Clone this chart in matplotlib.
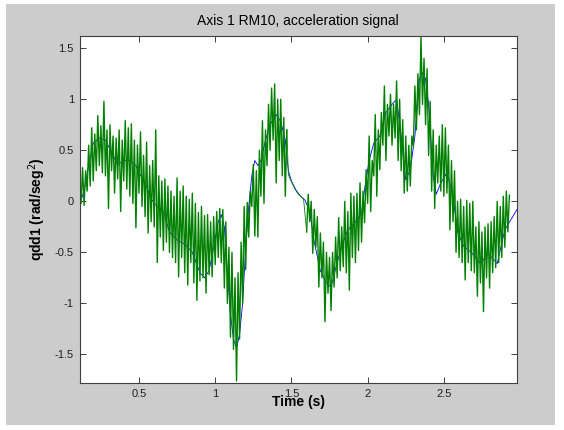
import matplotlib.pyplot as plt
from matplotlib.patches import Rectangle

plt.rcParams['font.family'] = ['Liberation Sans', 'DejaVu Sans']

# senal de referencia (filtrada)
t_ref = [0.11, 0.13, 0.15, 0.17, 0.20, 0.24, 0.28, 0.32, 0.36, 0.40, 0.44, 0.48,
         0.50, 0.54, 0.58, 0.62, 0.66, 0.70, 0.75, 0.80, 0.85, 0.90, 0.93, 0.96,
         0.99, 1.02, 1.04, 1.06, 1.08, 1.10, 1.12, 1.14, 1.16, 1.18, 1.20, 1.22,
         1.24, 1.26, 1.28, 1.30, 1.33, 1.36, 1.40, 1.43, 1.46, 1.48, 1.50, 1.53,
         1.56, 1.59, 1.62, 1.65, 1.69, 1.73, 1.76, 1.80, 1.84, 1.87, 1.92, 1.96,
         1.98, 2.01, 2.04, 2.08, 2.12, 2.16, 2.19, 2.22, 2.25, 2.28, 2.31, 2.34,
         2.36, 2.38, 2.40, 2.43, 2.45, 2.48, 2.52, 2.56, 2.59, 2.63, 2.68, 2.74,
         2.79, 2.85, 2.90, 2.94, 2.98]
qdd_ref = [0.00, 0.05, 0.18, 0.35, 0.57, 0.62, 0.60, 0.48, 0.36, 0.40, 0.40, 0.35,
           0.28, 0.18, 0.02, -0.05, -0.10, -0.30, -0.38, -0.42, -0.50, -0.70, -0.75, -0.68,
           -0.45, -0.20, -0.13, -0.25, -0.70, -1.10, -1.35, -1.44, -1.30, -1.00, -0.45, -0.05,
           0.25, 0.40, 0.35, 0.40, 0.60, 0.75, 0.85, 0.78, 0.60, 0.30, 0.20, 0.11,
           0.05, 0.01, -0.10, -0.40, -0.68, -0.80, -0.84, -0.60, -0.40, -0.28, -0.20, -0.12,
           0.12, 0.40, 0.57, 0.64, 0.87, 0.95, 1.00, 0.64, 0.21, 0.31, 0.64, 1.20,
           1.26, 1.20, 0.95, 0.25, 0.07, 0.18, 0.28, 0.05, -0.30, -0.44, -0.50, -0.61,
           -0.51, -0.61, -0.28, -0.18, -0.08]

# senal medida: maximos y minimos cada 0.02 s, primer tramo (0.12 - 1.46 s)
t0_a = 0.12
hi_a = [0.33, 0.30, 0.55, 0.72, 0.66, 0.84, 0.74, 0.98, 0.70, 0.75, 0.64, 0.62,
        0.70, 0.60, 0.79, 0.72, 0.76, 0.60, 0.55, 0.68, 0.45, 0.58, 0.35, 0.40,
        0.70, 0.25, 0.20, 0.22, 0.15, 0.10, 0.05, 0.23, 0.10, 0.15, 0.05, 0.02,
        0.08, -0.02, -0.11, -0.05, -0.14, -0.13, -0.20, -0.15, -0.10, -0.07, -0.08, -0.20,
        -0.45, -0.50, -0.75, -0.70, -0.40, -0.05, -0.01, 0.10, 0.36, 0.30, 0.50, 0.79,
        0.70, 0.95, 1.11, 1.15, 1.00, 1.00, 0.82, 0.70]
lo_a = [-0.02, -0.04, 0.10, 0.15, 0.20, 0.30, 0.35, 0.28, 0.25, -0.07, 0.30, 0.08,
        0.22, -0.10, 0.20, 0.12, 0.05, -0.02, -0.26, 0.08, -0.05, -0.15, -0.31, -0.20,
        -0.25, -0.60, -0.35, -0.48, -0.40, -0.50, -0.55, -0.60, -0.74, -0.55, -0.70, -0.82,
        -0.60, -0.80, -0.97, -0.78, -0.75, -0.90, -0.72, -0.74, -0.62, -0.55, -0.60, -0.85,
        -1.00, -1.33, -1.45, -1.76, -1.35, -1.00, -0.67, -0.35, -0.05, -0.34, -0.35, 0.05,
        -0.02, 0.35, 0.50, 0.60, 0.18, 0.40, 0.25, 0.05]

# tramo sin ruido (1.48 - 1.58 s)
t_lisa = [1.48, 1.50, 1.52, 1.54, 1.56, 1.58]
v_lisa = [0.26, 0.19, 0.13, 0.08, 0.05, 0.02]

# segundo tramo con ruido (1.60 - 2.92 s)
t0_b = 1.60
hi_b = [0.07, 0.00, -0.08, -0.15, -0.31, -0.40, -0.50, -0.55, -0.50, -0.35, -0.16, -0.25,
        0.00, -0.10, 0.08, 0.05, 0.08, 0.18, 0.10, 0.31, 0.64, 0.40, 0.85, 0.70,
        0.87, 1.13, 0.95, 1.05, 0.95, 1.18, 1.00, 0.80, 0.64, 0.55, 0.64, 1.13,
        1.25, 1.61, 1.40, 1.30, 0.98, 0.70, 0.55, 0.64, 0.75, 0.72, 0.55, 0.40,
        0.30, 0.00, 0.02, -0.05, 0.01, -0.02, 0.00, -0.25, -0.20, -0.30, -0.25, -0.22,
        -0.20, -0.15, 0.00, -0.05, 0.05, 0.10, 0.06]
lo_b = [-0.30, -0.20, -0.51, -0.45, -0.84, -0.75, -1.18, -0.90, -1.07, -0.84, -0.75, -0.68,
        -0.64, -0.70, -0.87, -0.55, -0.60, -0.48, -0.40, -0.21, -0.02, -0.10, 0.25, 0.05,
        0.31, 0.55, 0.40, 0.64, 0.55, 0.62, 0.40, 0.30, 0.08, 0.10, 0.15, 0.54,
        0.70, 0.85, 0.95, 0.75, 0.45, 0.10, -0.07, 0.18, 0.10, 0.05, 0.08, -0.28,
        -0.20, -0.50, -0.55, -0.60, -0.77, -0.60, -0.68, -0.70, -0.93, -0.80, -1.08, -0.75,
        -0.85, -0.70, -0.65, -0.60, -0.55, -0.45, -0.30]


def zigzag(t0, hi, lo, dt=0.02):
    # alterna minimo y maximo para dibujar el ruido
    t, v = [], []
    for i, (h, l) in enumerate(zip(hi, lo)):
        t += [t0 + i * dt, t0 + i * dt + dt / 2]
        v += [l, h]
    return t, v


ta, va = zigzag(t0_a, hi_a, lo_a)
tb, vb = zigzag(t0_b, hi_b, lo_b)

fig = plt.figure(figsize=(5.64, 4.30), dpi=100)
fig.patch.set_facecolor('white')
# fondo gris de la ventana
fig.patches.append(Rectangle((6 / 564, 5 / 430), 549 / 564, 421 / 430,
                             transform=fig.transFigure, facecolor='#cccccc',
                             edgecolor='none', zorder=-10))

ax = fig.add_axes([0.141, 0.1093, 0.7757, 0.807])
ax.plot(t_ref, qdd_ref, color='#0000ff', lw=0.6)
verde = '#008000'
ax.plot(ta, va, color=verde, lw=1.0)
# union fina entre los dos tramos con ruido
ax.plot([ta[-1]] + t_lisa + [tb[0]], [va[-1]] + v_lisa + [vb[0]], color=verde, lw=0.6)
ax.plot(tb, vb, color=verde, lw=1.0)

ax.set_xlim(0.11, 2.98)
ax.set_ylim(-1.78, 1.62)
ax.set_xticks([0.5, 1, 1.5, 2, 2.5])
ax.set_xticklabels(['0.5', '1', '1.5', '2', '2.5'])
ax.set_yticks([-1.5, -1, -0.5, 0, 0.5, 1, 1.5])
ax.set_yticklabels(['-1.5', '-1', '-0.5', '0', '0.5', '1', '1.5'])
ax.tick_params(direction='in', length=4, width=0.7, top=True, right=True,
               labelsize=8, colors='#404040', labelcolor='#202020', pad=4)
for s in ax.spines.values():
    s.set_color('#404040')
    s.set_linewidth(0.8)

ax.set_title('Axis 1 RM10, acceleration signal', fontsize=10, pad=8)
ax.set_xlabel('Time (s)', fontsize=10, fontweight='bold', va='center')
ax.xaxis.set_label_coords(0.5, -0.055)
ax.set_ylabel('qdd1 (rad/seg$^2$)', fontsize=10, fontweight='bold', va='center')
ax.yaxis.set_label_coords(-0.097, 0.5)

fig.savefig('out.png', dpi=100)
